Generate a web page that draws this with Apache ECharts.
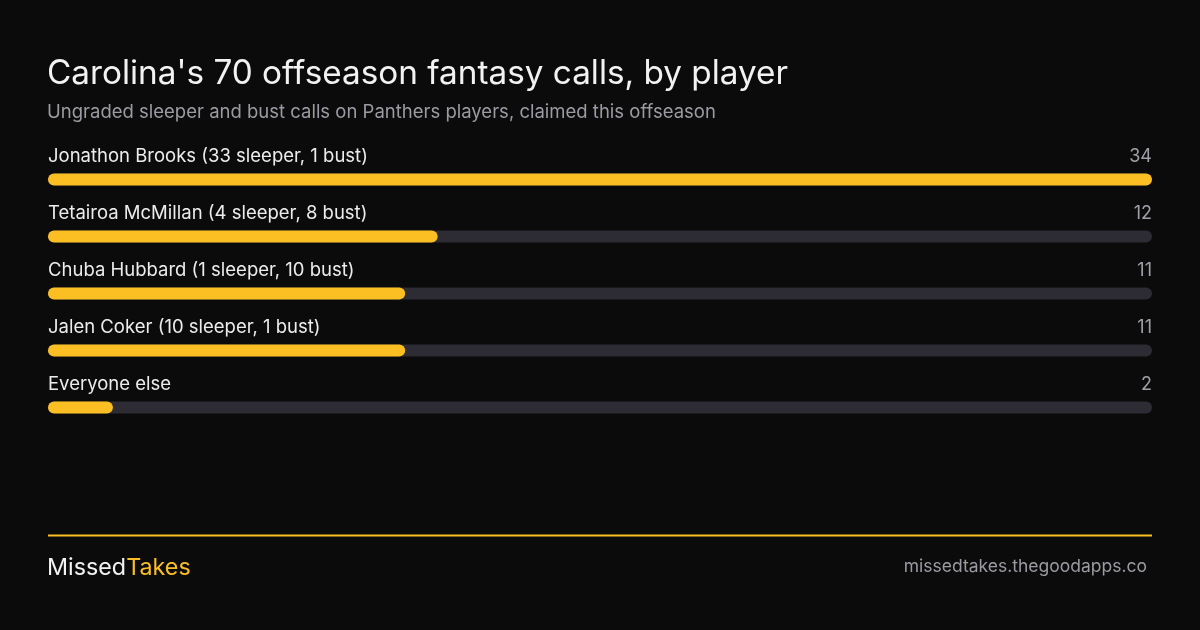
<!DOCTYPE html>
<html><head><meta charset="utf-8">
<script src="https://cdn.jsdelivr.net/npm/echarts@6/dist/echarts.min.js"></script>
<style>html,body{margin:0;padding:0;background:#0b0b0b;}#c{width:1200px;height:630px;}</style>
</head><body><div id="c"></div>
<script>
const categories = ["Jonathon Brooks (33 sleeper, 1 bust)","Tetairoa McMillan (4 sleeper, 8 bust)","Chuba Hubbard (1 sleeper, 10 bust)","Jalen Coker (10 sleeper, 1 bust)","Everyone else"];
const values = [34, 12, 11, 11, 2];
const titleText = "Carolina's 70 offseason fantasy calls, by player";
const subtitleText = "Ungraded sleeper and bust calls on Panthers players, claimed this offseason";
const brandA = "Missed", brandB = "Takes";
const siteText = "missedtakes.thegoodapps.co";

const FONT = "Inter, 'Noto Sans', sans-serif";
const AMBER = "#fbbf24";
const maxV = Math.max(...values);
const chart = echarts.init(document.getElementById('c'), null, {renderer:'canvas'});
chart.setOption({
  backgroundColor: '#0b0b0b',
  animation: false,
  textStyle: {fontFamily: FONT},
  title: [
    {text: titleText, subtext: subtitleText, left: 42, top: 52, itemGap: 13,
     textStyle: {color: '#f2f2f2', fontSize: 33.3, fontWeight: 400, fontFamily: FONT},
     subtextStyle: {color: '#9b9ba3', fontSize: 18.5, fontFamily: FONT}},
    {text: '{a|' + brandA + '}{b|' + brandB + '}', left: 42, top: 551,
     textStyle: {fontWeight: 'normal', rich: {
       a: {color: '#f2f2f2', fontSize: 23.3, fontWeight: 'normal', fontFamily: FONT},
       b: {color: AMBER, fontSize: 23.3, fontWeight: 'normal', fontFamily: FONT}}}},
    {text: siteText, right: 48, top: 553,
     textStyle: {color: '#9b9ba3', fontSize: 17.5, fontWeight: 400, fontFamily: FONT}}
  ],
  graphic: [{type: 'rect', shape: {x: 48, y: 534.5, width: 1104, height: 2}, style: {fill: AMBER}, silent: true}],
  grid: {left: 48, right: 48, top: 151, height: 285, containLabel: false},
  xAxis: {type: 'value', min: 0, max: maxV, show: false},
  yAxis: {type: 'category', data: categories, inverse: true, show: false},
  series: [
    {type: 'bar', data: values.map(() => maxV), barWidth: 12, silent: true,
     itemStyle: {color: 'rgba(0,0,0,0)'},
     label: {show: true, position: ['100%', -8], align: 'right', verticalAlign: 'bottom',
       formatter: p => String(values[p.dataIndex]), color: '#a0a0a8', fontSize: 18, fontFamily: FONT}},
    {type: 'bar', data: values, barWidth: 12, barGap: '-100%', silent: true,
     showBackground: true, backgroundStyle: {color: '#2d2b33', borderRadius: 6},
     itemStyle: {color: AMBER, borderRadius: 6},
     label: {show: true, position: [0, -8], align: 'left', verticalAlign: 'bottom',
       formatter: p => p.name, color: '#ececec', fontSize: 18.5, fontFamily: FONT}}
  ]
});
</script></body></html>
